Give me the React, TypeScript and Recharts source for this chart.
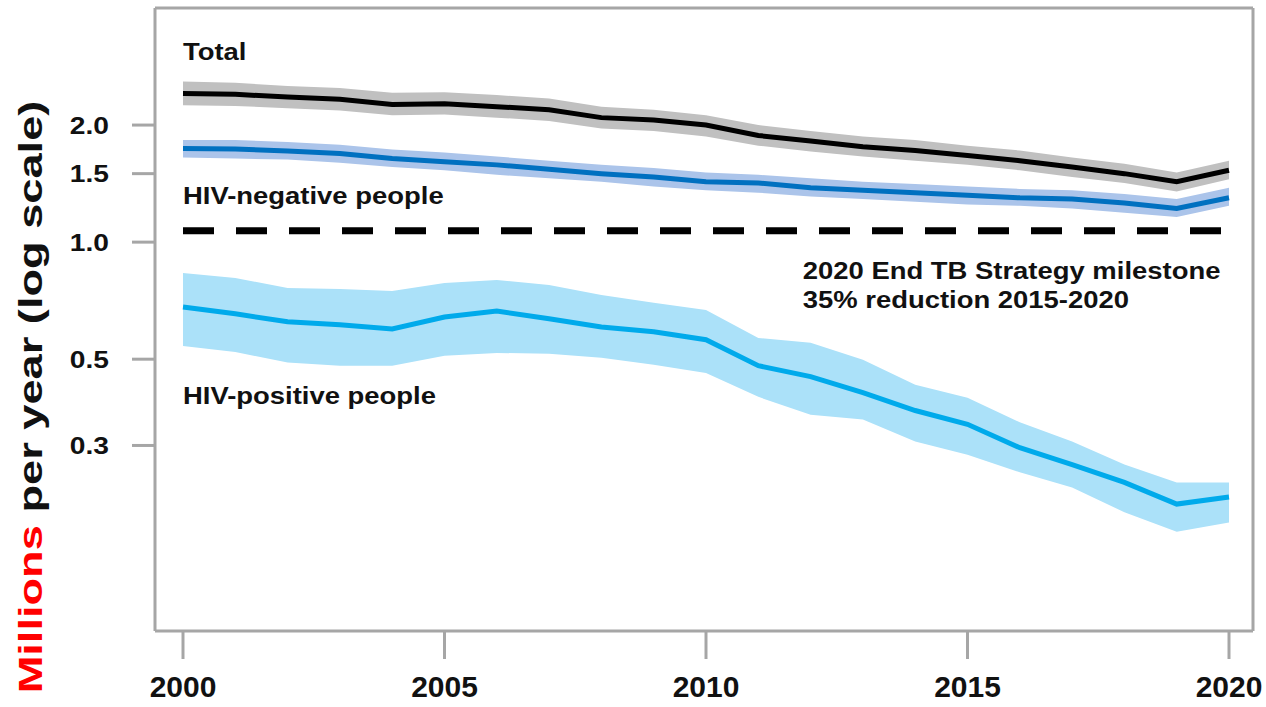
import React from "react"
import { ComposedChart, Area, Line, XAxis, YAxis, CartesianGrid, ReferenceLine, ReferenceDot } from "recharts"

// TB deaths, millions per year
const years = [2000, 2001, 2002, 2003, 2004, 2005, 2006, 2007, 2008, 2009, 2010, 2011, 2012, 2013, 2014, 2015, 2016, 2017, 2018, 2019, 2020]

const totalMid = [2.41, 2.4, 2.36, 2.33, 2.26, 2.27, 2.23, 2.19, 2.09, 2.06, 2.0, 1.88, 1.82, 1.76, 1.72, 1.67, 1.62, 1.56, 1.5, 1.43, 1.53]
const totalLo = [2.25, 2.24, 2.21, 2.18, 2.12, 2.13, 2.09, 2.05, 1.96, 1.93, 1.87, 1.77, 1.71, 1.66, 1.62, 1.58, 1.53, 1.47, 1.42, 1.35, 1.45]
const totalHi = [2.59, 2.57, 2.52, 2.49, 2.42, 2.43, 2.39, 2.34, 2.23, 2.19, 2.12, 2.0, 1.93, 1.87, 1.83, 1.77, 1.72, 1.65, 1.59, 1.51, 1.62]

const negMid = [1.74, 1.735, 1.715, 1.69, 1.64, 1.61, 1.58, 1.54, 1.5, 1.47, 1.43, 1.42, 1.38, 1.36, 1.34, 1.32, 1.3, 1.29, 1.26, 1.22, 1.3]
const negLo = [1.65, 1.64, 1.63, 1.6, 1.56, 1.53, 1.49, 1.46, 1.43, 1.39, 1.36, 1.34, 1.31, 1.29, 1.27, 1.25, 1.24, 1.22, 1.19, 1.16, 1.24]
const negHi = [1.83, 1.83, 1.81, 1.78, 1.73, 1.7, 1.66, 1.62, 1.58, 1.55, 1.51, 1.49, 1.46, 1.43, 1.41, 1.39, 1.37, 1.36, 1.33, 1.29, 1.38]

const posMid = [0.681, 0.654, 0.624, 0.613, 0.598, 0.642, 0.665, 0.635, 0.605, 0.588, 0.561, 0.481, 0.451, 0.41, 0.369, 0.34, 0.296, 0.268, 0.241, 0.212, 0.221]
const posLo = [0.541, 0.522, 0.49, 0.481, 0.481, 0.51, 0.519, 0.516, 0.504, 0.484, 0.461, 0.4, 0.36, 0.35, 0.307, 0.284, 0.256, 0.234, 0.202, 0.18, 0.19]
const posHi = [0.833, 0.809, 0.762, 0.758, 0.749, 0.785, 0.799, 0.776, 0.731, 0.698, 0.669, 0.567, 0.551, 0.498, 0.43, 0.398, 0.344, 0.307, 0.268, 0.241, 0.241]

const milestone = 1.07
const xTicks = [2000, 2005, 2010, 2015, 2020]
const yTicks = [0.3, 0.5, 1, 1.5, 2]

const data = years.map((year, i) => ({
  year,
  total: totalMid[i],
  totalBand: [totalLo[i], totalHi[i]],
  neg: negMid[i],
  negBand: [negLo[i], negHi[i]],
  pos: posMid[i],
  posBand: [posLo[i], posHi[i]],
}))

const FONT = "'Liberation Sans', Arial, sans-serif"
const AXIS = "#a6a6a6"

// the source image is a bit stretched sideways, so text gets a scaleX
const note = (text: string) => (props: any) => {
  const { viewBox } = props
  return (
    <text
      transform={`translate(${viewBox.x}, ${viewBox.y}) scale(1.12, 1)`}
      dy="0.36em"
      fontFamily={FONT}
      fontWeight="bold"
      fontSize={24.5}
      fill="#111"
      textAnchor="start"
    >
      {text}
    </text>
  )
}

const YTick = (props: any) => {
  const { x, y, payload } = props
  return (
    <text transform={`translate(${x}, ${y}) scale(1.15, 1)`} dy="0.36em" textAnchor="end" fontFamily={FONT} fontWeight="bold" fontSize={24.5} fill="#111">
      {Number(payload.value).toFixed(1)}
    </text>
  )
}

const YTitle = () => (
  <text transform="translate(30, 397) rotate(-90) scale(1.37, 1)" textAnchor="middle" dominantBaseline="central" fontFamily={FONT} fontWeight="bold" fontSize={33}>
    <tspan fill="#ff0000">Millions</tspan>
    <tspan fill="#111"> per year (log scale)</tspan>
  </text>
)

export default function App() {
  return (
    <div style={{ position: "absolute", left: 0, top: 0, background: "#fff" }}>
      <ComposedChart width={1266} height={707} data={data} margin={{ top: 8, right: 13, left: 0, bottom: 0 }}>
        {/* top and right edges of the frame */}
        <CartesianGrid horizontalPoints={[8]} verticalPoints={[1253]} stroke={AXIS} strokeWidth={3} />
        <XAxis
          dataKey="year"
          type="number"
          domain={[2000, 2020]}
          ticks={xTicks}
          padding={{ left: 28, right: 24 }}
          height={76}
          axisLine={{ stroke: AXIS, strokeWidth: 3 }}
          tickLine={{ stroke: AXIS, strokeWidth: 3 }}
          tickSize={28}
          tickMargin={17}
          tick={{ fill: "#111", fontSize: 30, fontWeight: "bold", fontFamily: FONT }}
        />
        <YAxis
          scale="log"
          domain={[0.1, 4]}
          allowDataOverflow
          ticks={yTicks}
          width={155}
          axisLine={{ stroke: AXIS, strokeWidth: 3 }}
          tickLine={{ stroke: AXIS, strokeWidth: 3 }}
          tickSize={23}
          tickMargin={23}
          tick={<YTick />}
          label={<YTitle />}
        />

        <Area dataKey="totalBand" stroke="none" fill="#c0c0c0" fillOpacity={1} isAnimationActive={false} />
        <Area dataKey="negBand" stroke="none" fill="#abc4ea" fillOpacity={1} isAnimationActive={false} />
        <Area dataKey="posBand" stroke="none" fill="#abe1f9" fillOpacity={1} isAnimationActive={false} />

        <Line dataKey="total" stroke="#000" strokeWidth={5} dot={false} isAnimationActive={false} />
        <Line dataKey="neg" stroke="#0070c0" strokeWidth={5} dot={false} isAnimationActive={false} />
        <Line dataKey="pos" stroke="#00aaeb" strokeWidth={5} dot={false} isAnimationActive={false} />

        <ReferenceLine
          segment={[{ x: 2000, y: milestone }, { x: 2020, y: milestone }]}
          stroke="#000"
          strokeWidth={7}
          strokeDasharray="31 22"
        />

        <ReferenceDot x={2000} y={3.1} r={0} stroke="none" label={note("Total")} />
        <ReferenceDot x={2000} y={1.32} r={0} stroke="none" label={note("HIV-negative people")} />
        <ReferenceDot x={2000} y={0.403} r={0} stroke="none" label={note("HIV-positive people")} />
        <ReferenceDot x={2011.85} y={0.848} r={0} stroke="none" label={note("2020 End TB Strategy milestone")} />
        <ReferenceDot x={2011.85} y={0.714} r={0} stroke="none" label={note("35% reduction 2015-2020")} />
      </ComposedChart>
    </div>
  )
}
